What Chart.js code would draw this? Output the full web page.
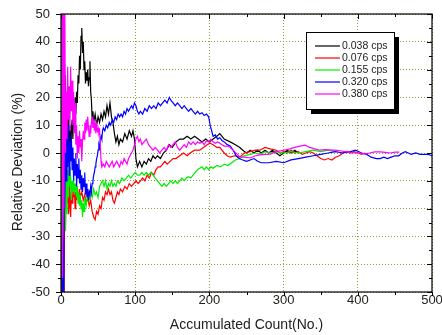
<!DOCTYPE html>
<html>
<head>
<meta charset="utf-8">
<script src="https://cdn.jsdelivr.net/npm/chart.js@4/dist/chart.umd.min.js"></script>
<style>
  html, body { margin: 0; padding: 0; background: #fff; }
  #wrap { width: 442px; height: 335px; }
</style>
</head>
<body>
<div id="wrap"><canvas id="chart" width="442" height="335"></canvas></div>
<script>
// series labels and colours (legend order)
const labels = ["0.038 cps", "0.076 cps", "0.155 cps", "0.320 cps", "0.380 cps"];
const colors = ["#000000", "#ff0000", "#00ee00", "#0000ff", "#ff00ff"];

// axis ticks
const xTicks = [0, 100, 200, 300, 400, 500];
const yTicks = [-50, -40, -30, -20, -10, 0, 10, 20, 30, 40, 50];

// [accumulated count, relative deviation %]
const dev038 = [[1,-80],[2,40],[3,-10],[4,31],[5,0],[6,28],[7,-5],[8,20],[9,5],[10,15],[11,2],[12,10],[13,-3],[14,8],[15,12],[16,5],[17,15],[18,10],[19,20],[20,14],[21,22],[22,18],[23,28],[24,25],[25,35],[26,30],[27,42],[28,45],[29,36],[30,40],[31,30],[32,33],[33,25],[34,29],[35,26],[36,30],[37,24],[38,27],[39,33],[40,22],[41,19],[42,12],[43,15],[44,11],[46,14],[48,10],[50,13],[52,11],[54,14],[56,12],[58,15],[60,13],[62,17],[64,14],[66,18],[68,13],[70,11],[72,7],[74,4],[76,6],[78,3],[80,5],[83,4],[86,7],[89,5],[92,8],[95,6],[97,8],[99,5],[101,-2],[103,-5],[106,-3],[109,-5],[112,-3],[115,-4],[118,-2],[121,-3],[124,-1],[127,-2],[130,-1],[134,-2],[138,0],[142,1],[146,3],[150,2],[155,4],[160,5],[165,5],[170,6],[175,5],[180,6],[185,5],[190,4],[195,5],[200,4],[205,5],[210,6],[214,7],[220,5],[228,4],[235,3],[241,2],[245,1],[250,0],[255,1],[260,0],[265,1],[270,0],[275,1],[280,0],[285,1],[290,0],[295,-1],[300,0],[305,1],[310,0],[315,1],[320,0]];

const dev076 = [[1,-50],[2,-20],[3,-35],[4,-60],[5,-15],[6,-28],[7,-8],[8,-18],[9,-10],[10,-22],[11,-12],[12,-20],[13,-23],[14,-14],[15,-18],[16,-10],[17,-16],[18,-12],[19,-20],[20,-14],[21,-17],[22,-12],[23,-15],[24,-18],[25,-13],[26,-16],[28,-14],[30,-17],[32,-15],[34,-18],[36,-16],[38,-19],[40,-17],[42,-21],[44,-23],[46,-24],[48,-21],[50,-22],[52,-19],[54,-20],[56,-16],[58,-17],[60,-14],[62,-15],[64,-13],[66,-15],[68,-14],[70,-17],[72,-18],[74,-16],[76,-14],[78,-15],[80,-13],[83,-14],[86,-12],[89,-13],[92,-11],[95,-12],[98,-11],[101,-10],[104,-11],[107,-10],[110,-9],[113,-10],[116,-8],[119,-9],[122,-7],[125,-8],[128,-6],[131,-5],[134,-5],[137,-4],[140,-3],[143,-4],[147,-3],[151,-2],[155,-2],[160,-1],[165,0],[170,-1],[174,0],[180,1],[187,1],[192,2],[197,3],[201,3.5],[205,3],[210,2],[214,2],[220,0],[224,-1],[228,-1.5],[234,-1],[241,-1.5],[247,0],[255,0.5],[262,1],[268,1],[275,2],[282,1.5],[290,1],[295,0],[300,0.5],[305,0],[310,1],[315,0],[320,0.5],[325,-0.5],[330,0],[335,0.5],[340,0],[345,-1],[350,-2],[355,-2.5],[360,-2],[365,-2.5],[370,-1.5],[375,-1],[380,0],[385,0.5],[390,0],[395,0.5],[400,0],[405,-0.5],[410,0]];

const dev155 = [[1,70],[2,-40],[3,25],[4,-15],[5,32],[6,-28],[7,-3],[8,-22],[9,-6],[10,-16],[11,-5],[12,-12],[13,-8],[14,-17],[15,-10],[16,-14],[17,-9],[18,-15],[19,-11],[20,-13],[21,-16],[22,-12],[23,-18],[24,-14],[25,-19],[26,-15],[27,-20],[28,-17],[29,-23],[30,-18],[31,-21],[32,-16],[34,-19],[36,-15],[38,-17],[40,-14],[42,-16],[44,-13],[46,-15],[48,-14],[50,-16],[52,-12],[54,-11],[56,-10],[58,-12],[60,-10],[62,-13],[64,-11],[66,-12],[68,-10],[70,-12],[72,-11],[74,-12],[76,-10],[79,-11],[82,-9],[85,-10],[88,-9],[91,-8],[94,-9],[97,-8],[100,-7],[103,-8],[106,-8],[109,-7],[112,-8],[115,-7],[118,-8],[121,-7],[124,-8],[127,-9],[130,-10],[133,-11],[136,-12],[139,-11],[142,-12],[145,-11],[148,-10],[151,-11],[154,-10],[157,-11],[160,-10],[163,-9],[166,-10],[169,-9],[172,-8.5],[175,-9],[178,-8],[181,-7],[184,-6],[187,-5.5],[190,-5],[193,-6],[196,-5],[199,-6],[202,-5],[205,-5.5],[210,-4.5],[215,-5],[220,-4],[225,-4.5],[230,-3.5],[235,-2.5],[241,-2],[247,-1],[255,-0.5],[262,0],[268,-0.5],[275,0.5],[282,0],[290,0.5],[300,0],[310,0.5],[320,0],[330,0.5],[340,1],[350,0.5],[360,1],[370,0.5]];

const dev320 = [[1,-90],[2,-30],[3,-50],[4,10],[5,-20],[6,5],[7,-10],[8,8],[9,-5],[10,10],[11,-8],[12,4],[13,-3],[14,6],[15,-6],[16,2],[17,-10],[18,-2],[19,-8],[20,0],[21,-12],[22,-4],[23,-9],[24,-2],[25,-11],[26,-6],[27,-13],[28,-8],[29,-14],[30,-9],[31,-12],[32,-7],[33,-15],[34,-11],[35,-16],[36,-13],[37,-17],[38,-14],[39,-15],[40,-12],[41,-14],[42,-11],[43,-10],[44,-8],[45,-7],[46,-5],[47,-4],[48,-2],[49,-1],[50,1],[51,3],[52,2],[53,5],[54,6],[55,5],[56,8],[57,9],[59,8],[61,10],[63,9],[65,11],[67,10],[69,12],[71,11],[73,13],[75,12],[77,14],[79,13],[81,14],[83,13],[85,15],[87,14],[89,16],[91,15],[93,16],[95,17],[97,16],[99,18],[101,17],[103,15],[105,14],[107,15],[110,14],[113,16],[116,15],[119,17],[122,16],[125,17],[128,16],[131,18],[134,17],[137,18],[140,19],[143,18],[146,20],[148,19],[151,18],[154,17],[157,18],[160,17],[163,16],[166,17],[169,16],[172,15],[175,16],[178,15],[181,14],[184,15],[187,14],[190,14.5],[193,13.5],[196,14],[199,13],[201,10],[203,8],[205,6],[208,6.5],[211,5],[214,5.5],[217,4.5],[220,4],[224,3],[228,2.5],[232,1],[236,-1],[240,-2],[245,-2.5],[250,-3],[255,-2.5],[260,-2],[265,-3],[270,-3.5],[280,-3.5],[290,-3],[300,-3.5],[310,-2.5],[320,-2],[330,-1.5],[340,-1],[350,-0.5],[360,0],[370,0.5],[380,0],[390,0.5],[397,1],[405,0],[412,-0.5],[418,-1.5],[425,-2],[430,-2],[435,-1.5],[440,-2],[445,-1.5],[450,-1],[455,-1],[460,0],[464,0.5],[468,0],[472,-0.5],[478,0],[484,-0.5],[490,-0.5],[495,-0.5],[500,-1]];

const dev380 = [[1,80],[2,-45],[3,60],[4,-20],[5,65],[6,0],[7,22],[8,5],[9,31],[10,12],[11,24],[12,8],[13,31],[14,15],[15,26],[16,10],[17,22],[18,7],[19,18],[20,3],[21,10],[22,-2],[23,6],[24,0],[25,8],[26,2],[27,5],[28,-3],[29,4],[30,8],[31,5],[32,11],[33,7],[34,12],[35,8],[36,13],[37,9],[38,6],[39,10],[40,7],[41,11],[42,13],[43,9],[44,12],[45,8],[46,11],[47,7],[48,10],[49,8],[50,9],[51,7],[52,8],[53,3],[54,-3],[55,-5],[57,-4],[59,-5],[61,-3],[63,-4],[65,-5],[67,-4],[69,-3],[71,-5],[73,-4],[75,-3],[77,-4],[79,-5],[81,-3],[83,-4],[85,-2],[87,-3],[89,-4],[91,-2],[93,-1],[95,0],[97,1],[99,3],[101,5],[103,6],[105,4],[107,5],[109,3],[112,4],[115,5],[118,3],[121,2],[124,1],[127,2],[130,1],[133,0],[136,1],[139,2],[142,1],[145,3],[148,2],[151,3],[154,4],[157,2],[160,1],[163,2],[166,3],[169,2],[172,4],[175,3],[178,4],[181,3],[184,4],[187,3.5],[190,4],[193,3],[196,4.5],[199,4],[202,5],[205,4],[208,3.5],[211,4],[214,3.5],[217,3],[220,2.5],[224,2.5],[228,2],[234,0.5],[241,-1.4],[248,-1.5],[255,-1.8],[262,-1],[268,-0.7],[275,-0.5],[282,-0.4],[290,0.5],[300,1],[309,1.5],[315,2],[322,2.5],[329,2.8],[335,2],[342,1.5],[349,1],[356,1.2],[363,1],[370,1],[376,0.8],[383,0.5],[390,0.2],[396,0],[403,0],[410,-0.3],[416,0],[423,0.4],[430,0.4],[437,0.2],[444,0],[450,0.3],[456,0.3]];

const series = [dev038, dev076, dev155, dev320, dev380];

const FONT = 'Arial, "Liberation Sans", sans-serif';
const gridColor = "rgb(150,150,60)";

// scales should not push the plot in for their edge labels
function noEdgePadding(s) {
  s.paddingLeft = 0;
  s.paddingRight = 0;
  s.paddingTop = 0;
  s.paddingBottom = 0;
}

// box around the plot, tick marks, y title and the legend box
const framePlugin = {
  id: "frame",
  afterDraw(chart) {
    const { ctx, chartArea: a, scales } = chart;
    const xs = scales.x, ys = scales.y;
    ctx.save();
    ctx.strokeStyle = "#000";
    ctx.lineWidth = 1.2;
    ctx.strokeRect(a.left, a.top, a.right - a.left, a.bottom - a.top);

    ctx.lineWidth = 1;
    ctx.beginPath();
    for (let v = 0; v <= 500; v += 50) {
      const px = Math.round(xs.getPixelForValue(v)) + 0.5;
      const major = v % 100 === 0;
      ctx.moveTo(px, a.bottom); ctx.lineTo(px, a.bottom + (major ? 4 : 3));
      ctx.moveTo(px, a.top); ctx.lineTo(px, a.top + (major ? 5 : 3));
    }
    for (let v = -50; v <= 50; v += 5) {
      const py = Math.round(ys.getPixelForValue(v)) + 0.5;
      const major = v % 10 === 0;
      ctx.moveTo(a.left, py); ctx.lineTo(a.left - (major ? 5 : 3), py);
      ctx.moveTo(a.right, py); ctx.lineTo(a.right - (major ? 5 : 3), py);
    }
    ctx.stroke();

    // y axis title
    ctx.fillStyle = "#222";
    ctx.font = "14px " + FONT;
    ctx.textAlign = "center";
    ctx.textBaseline = "middle";
    ctx.translate(18, 162);
    ctx.rotate(-Math.PI / 2);
    ctx.fillText("Relative Deviation (%)", 0, 0);
    ctx.restore();

    // legend
    ctx.save();
    const lx = 306, ly = 32, lw = 88, lh = 77;
    ctx.fillStyle = "#000";
    ctx.fillRect(lx + 5, ly + 5, lw, lh);
    ctx.fillStyle = "#fff";
    ctx.fillRect(lx, ly, lw, lh);
    ctx.strokeStyle = "#000";
    ctx.lineWidth = 1;
    ctx.strokeRect(lx + 0.5, ly + 0.5, lw, lh);
    ctx.font = "10.5px " + FONT;
    ctx.textAlign = "left";
    ctx.textBaseline = "middle";
    chart.data.datasets.forEach((ds, i) => {
      const y = ly + 14 + i * 12;
      ctx.strokeStyle = ds.borderColor;
      ctx.lineWidth = 1.2;
      ctx.beginPath();
      ctx.moveTo(lx + 9, y); ctx.lineTo(lx + 34, y);
      ctx.stroke();
      ctx.fillStyle = "#222";
      ctx.fillText(ds.label, lx + 36, y);
    });
    ctx.restore();
  }
};

new Chart(document.getElementById("chart"), {
  type: "line",
  data: {
    datasets: series.map((pts, i) => ({
      label: labels[i],
      data: pts.map(p => ({ x: p[0], y: p[1] })),
      borderColor: colors[i],
      borderWidth: 1.2,
      pointRadius: 0,
      tension: 0,
      order: 5 - i
    }))
  },
  options: {
    responsive: false,
    animation: false,
    layout: { autoPadding: false, padding: { top: 14, right: 10, left: 0, bottom: 0 } },
    plugins: { legend: { display: false }, tooltip: { enabled: false } },
    scales: {
      x: {
        type: "linear",
        min: 0,
        max: 500,
        afterBuildTicks: s => { s.ticks = xTicks.map(v => ({ value: v })); },
        afterFit: s => { s.height = 43; noEdgePadding(s); },
        ticks: { color: "#222", font: { family: FONT, size: 13 }, padding: 1, maxRotation: 0 },
        grid: { color: gridColor, lineWidth: 1, drawTicks: false },
        border: { display: false, dash: [1, 2] },
        title: {
          display: true,
          text: "Accumulated Count(No.)",
          color: "#222",
          font: { family: FONT, size: 14 },
          padding: { top: 0, bottom: 1 }
        }
      },
      y: {
        type: "linear",
        min: -50,
        max: 50,
        afterBuildTicks: s => { s.ticks = yTicks.map(v => ({ value: v })); },
        afterFit: s => { s.width = 61; noEdgePadding(s); },
        ticks: { color: "#222", font: { family: FONT, size: 13 }, padding: 11 },
        grid: { color: gridColor, lineWidth: 1, drawTicks: false },
        border: { display: false, dash: [1, 2] }
      }
    }
  },
  plugins: [framePlugin]
});
</script>
</body>
</html>
